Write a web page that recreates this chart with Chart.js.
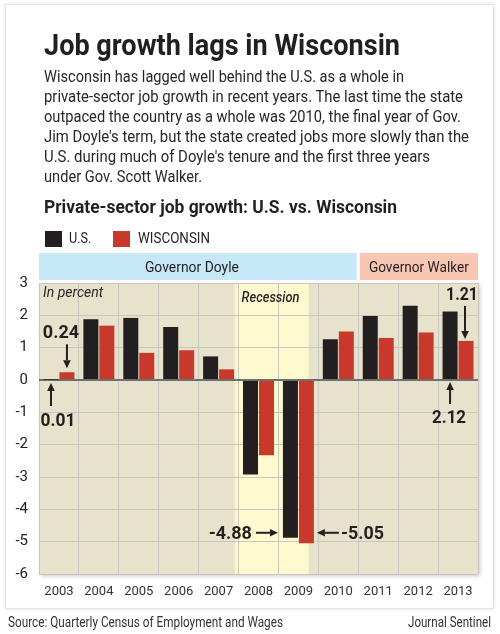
<!DOCTYPE html>
<html><head><meta charset="utf-8">
<script src="https://cdn.jsdelivr.net/npm/chart.js@4.4.0/dist/chart.umd.min.js"></script>
<style>
html,body{margin:0;padding:0;background:#fff;}
#page{position:relative;width:500px;height:634px;overflow:hidden;font-family:Roboto,'Noto Sans',sans-serif;color:#231f20;}
#card{position:absolute;left:5px;top:4px;width:487px;height:603px;border:1px solid #e4e4e4;box-shadow:0 0 4px rgba(0,0,0,0.12);background:#fff;}
#c{position:absolute;left:0;top:0;width:500px;height:634px;}
.t{position:absolute;white-space:nowrap;line-height:1;transform-origin:0 0;}
.sub{font-size:17px;color:#2a2627;}
.sq{position:absolute;width:17px;height:16px;}
</style></head>
<body><div id="page"><div id="card"></div>
<canvas id="c" width="500" height="634"></canvas>
<div class="t" data-w="356" style="left:44px;top:30.5px;font-size:29px;font-weight:700;">Job growth lags in Wisconsin</div>
<div class="t sub" data-w="360" style="left:44px;top:67.6px;">Wisconsin has lagged well behind the U.S. as a whole in</div>
<div class="t sub" data-w="419" style="left:44px;top:87.6px;">private-sector job growth in recent years. The last time the state</div>
<div class="t sub" data-w="417" style="left:44px;top:107.6px;">outpaced the country as a whole was 2010, the final year of Gov.</div>
<div class="t sub" data-w="425" style="left:44px;top:127.6px;">Jim Doyle's term, but the state created jobs more slowly than the</div>
<div class="t sub" data-w="386" style="left:44px;top:147.6px;">U.S. during much of Doyle's tenure and the first three years</div>
<div class="t sub" data-w="158" style="left:44px;top:167.6px;">under Gov. Scott Walker.</div>
<div class="t" data-w="353" style="left:44px;top:197.8px;font-size:18px;font-weight:700;">Private-sector job growth: U.S. vs. Wisconsin</div>
<div class="sq" style="left:45px;top:231px;background:#231f20;"></div>
<div class="t" data-w="22.4" style="left:69px;top:231.3px;font-size:15px;">U.S.</div>
<div class="sq" style="left:113px;top:231px;background:#c8392c;"></div>
<div class="t" data-w="72" style="left:138px;top:231.3px;font-size:15px;">WISCONSIN</div>
<div class="t" data-w="275" style="left:8px;top:615.2px;font-size:14px;color:#333;">Source: Quarterly Census of Employment and Wages</div>
<div class="t" data-w="83" style="left:408px;top:615.2px;font-size:14px;color:#333;">Journal Sentinel</div>
</div>
<script>
// ---- data ----
const years = ['2003','2004','2005','2006','2007','2008','2009','2010','2011','2012','2013'];
const usGrowth = [0.01, 1.88, 1.92, 1.64, 0.73, -2.92, -4.88, 1.26, 1.98, 2.30, 2.12];
const wiGrowth = [0.24, 1.68, 0.84, 0.92, 0.33, -2.33, -5.05, 1.50, 1.30, 1.47, 1.21];
const seriesNames = ['U.S.', 'WISCONSIN'];
const yMin = -6, yMax = 3, yStep = 1;
const govNames = ['Governor Doyle', 'Governor Walker'];
const govFirstYear = ['2003', '2011'];
const govLastYear = ['2010', '2013'];
const recessionLabel = 'Recession';
const recessionFrom = 2007.9;   // fractional year
const recessionTo = 2009.75;
const unitLabel = 'In percent';

const C_US = '#231f20', C_WI = '#c8392c';
const GRID = '#c9c6bd';

function fitScale(){
  document.querySelectorAll('.t[data-w]').forEach(el=>{
    el.style.transform='none';
    const w = el.getBoundingClientRect().width;
    el.style.transform = 'scaleX(' + (parseFloat(el.dataset.w)/w) + ')';
  });
}

function arrow(ctx, x1, y1, x2, y2){
  const a = Math.atan2(y2-y1, x2-x1), L = 8, W = 3.8;
  const bx = x2 - L*Math.cos(a), by = y2 - L*Math.sin(a);
  ctx.beginPath(); ctx.moveTo(x1,y1); ctx.lineTo(bx,by); ctx.lineWidth=2; ctx.strokeStyle=C_US; ctx.stroke();
  ctx.beginPath(); ctx.moveTo(x2,y2);
  ctx.lineTo(bx + W*Math.sin(a), by - W*Math.cos(a));
  ctx.lineTo(bx - W*Math.sin(a), by + W*Math.cos(a));
  ctx.closePath(); ctx.fillStyle=C_US; ctx.fill();
}

const bgPlugin = {
  id:'bg',
  beforeDraw(chart){
    const {ctx, chartArea:a, scales:{x}} = chart;
    const step = x.getPixelForValue(1) - x.getPixelForValue(0);
    const yearPx = yr => x.getPixelForValue(0) + (yr - (parseInt(years[0])+0.5))*step;
    ctx.save();
    ctx.shadowColor='rgba(0,0,0,0.22)'; ctx.shadowBlur=4; ctx.shadowOffsetX=2; ctx.shadowOffsetY=2;
    ctx.fillStyle='#e6e2cb'; ctx.fillRect(a.left,a.top,a.right-a.left,a.bottom-a.top);
    ctx.restore();
    ctx.save();
    // recession band
    const r1 = yearPx(recessionFrom), r2 = yearPx(recessionTo);
    ctx.fillStyle='#fbf3c0'; ctx.fillRect(r1, a.top, r2-r1, a.bottom-a.top);
    ctx.fillStyle='#fef9cf'; ctx.fillRect(r1+2, a.top, r2-r1-2, a.bottom-a.top);
    // governor bands
    const colors = ['#c6e8f7','#f8c7b4'];
    govNames.forEach((n,i)=>{
      const i0 = years.indexOf(govFirstYear[i]), i1 = years.indexOf(govLastYear[i]);
      let l = x.getPixelForValue(i0) - step/2, r = x.getPixelForValue(i1) + step/2;
      if (i0>0) l += 1.5;
      if (i1<years.length-1) r -= 1.5;
      ctx.fillStyle = colors[i];
      ctx.fillRect(l, a.top-30, r-l, 27);
      ctx.fillStyle = '#231f20';
      ctx.font = '15px Roboto';
      ctx.textAlign='center'; ctx.textBaseline='alphabetic';
      const tw = i===0 ? 94 : 100;
      ctx.fillText(n, (l+r)/2 - (i===0?6:0), a.top-11, tw);
    });
    ctx.restore();
  },
  afterDatasetsDraw(chart){
    const {ctx, chartArea:a, scales:{x,y}} = chart;
    const us = chart.getDatasetMeta(0).data, wi = chart.getDatasetMeta(1).data;
    const step = x.getPixelForValue(1) - x.getPixelForValue(0);
    const yearPx = yr => x.getPixelForValue(0) + (yr - (parseInt(years[0])+0.5))*step;
    const z = y.getPixelForValue(0);
    ctx.save();
    ctx.fillStyle = '#2a2627';
    ctx.textBaseline='alphabetic';
    ctx.font = 'italic 14px Roboto'; ctx.textAlign='left';
    ctx.fillText(unitLabel, a.left+4, a.top+14, 63);
    ctx.font = 'italic 500 15px Roboto';
    ctx.fillText(recessionLabel, yearPx(recessionFrom)+7, a.top+19, 58);
    ctx.fillStyle = C_US;
    ctx.font = 'bold 18px Roboto';
    // 2003 WI
    let b = wi[0];
    ctx.textAlign='center'; ctx.fillText(wiGrowth[0].toFixed(2), b.x-6, b.y-34, 38);
    arrow(ctx, b.x, b.y-28, b.x, b.y-4);
    // 2003 US
    b = us[0];
    arrow(ctx, b.x, z+26, b.x, z+3);
    ctx.fillText(usGrowth[0].toFixed(2), b.x+7, z+46, 35);
    // 2013 WI
    const n = years.length-1;
    b = wi[n];
    ctx.textAlign='right'; ctx.fillText(wiGrowth[n].toFixed(2), a.right, b.y-41, 32);
    arrow(ctx, b.x-1, b.y-35, b.x-1, b.y-2);
    // 2013 US
    b = us[n];
    arrow(ctx, b.x, z+24, b.x, z+2);
    ctx.textAlign='center'; ctx.fillText(usGrowth[n].toFixed(2), b.x-1, z+43, 34);
    // 2009
    const k = years.indexOf('2009');
    b = us[k];
    const yy = b.y - 5;
    arrow(ctx, b.x-b.width/2-27, yy, b.x-b.width/2-5, yy);
    ctx.textAlign='right'; ctx.fillText(usGrowth[k].toFixed(2), b.x-b.width/2-31, yy+6, 45);
    b = wi[k];
    arrow(ctx, b.x+b.width/2+25, yy, b.x+b.width/2+3, yy);
    ctx.textAlign='left'; ctx.fillText(wiGrowth[k].toFixed(2), b.x+b.width/2+27, yy+6, 43);
    ctx.restore();
  }
};

Chart.defaults.font.family = 'Roboto, "Noto Sans", sans-serif';
function build(){
  fitScale();
  new Chart(document.getElementById('c'), {
    type:'bar',
    data:{
      labels: years,
      datasets:[
        {label: seriesNames[0], data: usGrowth, backgroundColor: C_US, categoryPercentage:0.8, barPercentage:0.94},
        {label: seriesNames[1], data: wiGrowth, backgroundColor: C_WI, categoryPercentage:0.8, barPercentage:0.94}
      ]
    },
    options:{
      responsive:false, animation:false, devicePixelRatio:1,
      layout:{padding:{top:283, right:22, bottom:30, left:0}},
      plugins:{legend:{display:false}, tooltip:{enabled:false}},
      scales:{
        x:{
          afterFit(s){ s.height = 30; },
          grid:{color:GRID, lineWidth:1, drawTicks:false, offset:true},
          border:{display:false},
          ticks:{padding:10, color:'#333', font:{size:13}, maxRotation:0, autoSkip:false}
        },
        y:{
          min:yMin, max:yMax,
          afterFit(s){ s.width = 39; },
          grid:{
            color: c => c.tick && c.tick.value===0 ? '#6f6f6f' : GRID,
            lineWidth: c => c.tick && c.tick.value===0 ? 2 : 1,
            drawTicks:false
          },
          border:{display:false},
          ticks:{stepSize:yStep, padding:11, color:'#222', font:{size:15}}
        }
      }
    },
    plugins:[bgPlugin]
  });
}
(document.fonts && document.fonts.ready ? document.fonts.ready : Promise.resolve()).then(()=>{
  Promise.all([document.fonts.load('15px Roboto'), document.fonts.load('bold 18px Roboto'), document.fonts.load('italic 14px Roboto')]).catch(()=>{}).then(build);
});
</script>
</body></html>
